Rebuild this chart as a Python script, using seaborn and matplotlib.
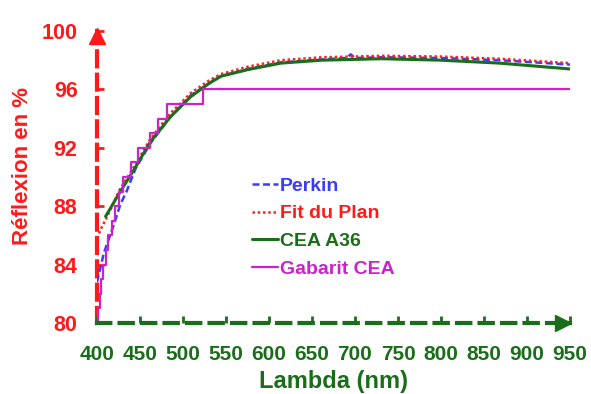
import matplotlib
matplotlib.use("Agg")
import matplotlib.pyplot as plt
import numpy as np
import pandas as pd
import seaborn as sns

# ---- data ----
perkin_x = [400, 408, 420, 427, 435, 445, 462, 485, 509, 530, 544, 575, 614, 661, 690, 695, 700, 732, 800, 868, 950]
perkin_y = [82.8, 84.8, 86.8, 88.1, 89.1, 90.6, 92.3, 94.1, 95.6, 96.4, 96.9, 97.4, 97.85, 98.05, 98.15, 98.4, 98.15, 98.2, 98.15, 98.0, 97.7]

fit_x = [400, 405, 412, 426, 442, 462, 485, 509, 530, 544, 575, 614, 661, 732, 800, 868, 950]
fit_y = [85.8, 86.5, 87.3, 89.1, 90.6, 92.6, 94.35, 95.75, 96.6, 97.05, 97.55, 98.0, 98.2, 98.3, 98.25, 98.1, 97.8]

cea_x = [410, 426, 442, 462, 485, 509, 530, 544, 575, 614, 661, 731, 800, 868, 950]
cea_y = [87.3, 88.9, 90.4, 92.4, 94.1, 95.5, 96.4, 96.9, 97.35, 97.8, 98.0, 98.1, 98.0, 97.8, 97.4]

gab_x = [400, 401, 403, 405, 407, 410, 413, 417, 421, 426, 430, 439, 448, 462, 471, 481, 523, 950]
gab_y = [80, 81, 82, 83, 84, 85, 86, 87, 88, 89, 90, 91, 92, 93, 94, 95, 96, 96]

x_ticks = [400, 450, 500, 550, 600, 650, 700, 750, 800, 850, 900, 950]
y_ticks = [80, 84, 88, 92, 96, 100]

series_names = ["Perkin", "Fit du Plan", "CEA A36", "Gabarit CEA"]

# ---- style ----
sns.set_theme(style="white")
plt.rcParams["font.family"] = ["Liberation Sans", "DejaVu Sans"]
plt.rcParams["font.weight"] = "bold"

RED = "#ff1a1a"
GREEN = "#1a6e1a"
BLUE = "#3b3bff"
MAG = "#cc22cc"

fig = plt.figure(figsize=(5.91, 3.94), dpi=100)
ax = fig.add_axes([97 / 591, 1 - 323 / 394, 473 / 591, 292 / 394])

sns.lineplot(x=perkin_x, y=perkin_y, ax=ax, color=BLUE, lw=1.8,
             linestyle=(0, (2.8, 1.4)), label=series_names[0])
sns.lineplot(x=fit_x, y=fit_y, ax=ax, color="#ff2020", lw=1.8,
             linestyle=(0, (1, 1.1)), label=series_names[1])
sns.lineplot(x=cea_x, y=cea_y, ax=ax, color=GREEN, lw=2.2, label=series_names[2])
sns.lineplot(x=gab_x, y=gab_y, ax=ax, color=MAG, lw=1.6,
             drawstyle="steps-post", label=series_names[3])

ax.set_xlim(400, 950)
ax.set_ylim(80, 100)
ax.set_xticks(x_ticks)
ax.set_yticks(y_ticks)
ax.grid(False)

sns.despine(ax=ax)
ax.spines["left"].set_color(RED)
ax.spines["left"].set_linewidth(3)
ax.spines["left"].set_linestyle((0, (3.6, 2.0)))
ax.spines["bottom"].set_color(GREEN)
ax.spines["bottom"].set_linewidth(3)
ax.spines["bottom"].set_linestyle((0, (3.2, 2.2)))
ax.spines["left"].set_zorder(0.5)
ax.spines["bottom"].set_zorder(3)

# arrow heads
ax.plot([0], [0.982], marker="^", markersize=12, color=RED, transform=ax.transAxes,
        clip_on=False, zorder=5)
ax.plot([0.985], [0], marker=">", markersize=12, color=GREEN, transform=ax.transAxes,
        clip_on=False, zorder=5)

ax.tick_params(axis="y", left=True, direction="in", length=5, width=2, color=RED,
               labelcolor=RED, labelsize=15.5, pad=14)
ax.tick_params(axis="x", bottom=True, direction="in", length=5, width=2, color=GREEN,
               labelcolor=GREEN, labelsize=15, pad=16)
for lab in ax.get_xticklabels() + ax.get_yticklabels():
    lab.set_fontweight("bold")

ax.set_xlabel("Lambda (nm)", color=GREEN, fontsize=17, fontweight="bold", labelpad=4)
ax.set_ylabel("Réflexion en %", color=RED, fontsize=16, fontweight="bold")
ax.yaxis.set_label_coords(-0.135, 0.536)

leg = ax.legend(loc="upper left", bbox_to_anchor=(252 / 591, 1 - 177 / 394),
                bbox_transform=fig.transFigure, frameon=False, fontsize=14,
                handlelength=1.35, handletextpad=0.1, labelspacing=0.52,
                borderpad=0, borderaxespad=0)
text_colors = [BLUE, RED, GREEN, MAG]
for t, c in zip(leg.get_texts(), text_colors):
    t.set_color(c)
    t.set_fontweight("bold")

fig.savefig("out.png", dpi=100)
